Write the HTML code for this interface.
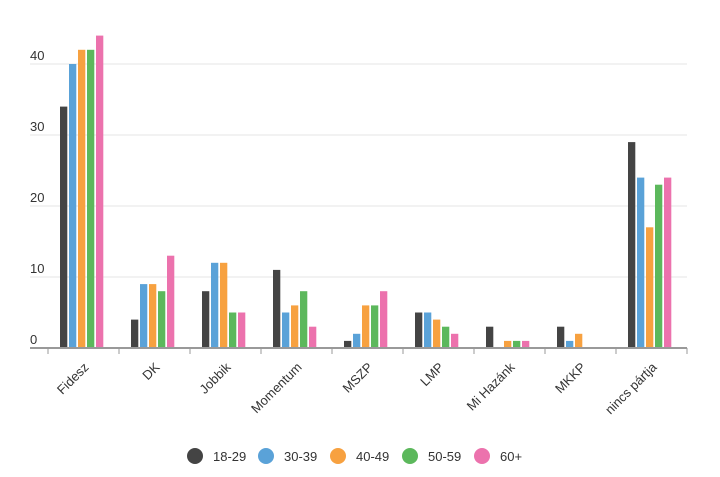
<!DOCTYPE html>
<html><head><meta charset="utf-8"><style>
body{margin:0;background:#fff;}
svg{display:block;font-family:"Liberation Sans",sans-serif;}
</style></head><body>
<svg id="chart" width="720" height="477"></svg>
<script>
const categories=["Fidesz","DK","Jobbik","Momentum","MSZP","LMP","Mi Hazánk","MKKP","nincs pártja"];
const seriesNames=["18-29","30-39","40-49","50-59","60+"];
const s1829=[34,4,8,11,1,5,3,3,29];
const s3039=[40,9,12,5,2,5,0,1,24];
const s4049=[42,9,12,6,6,4,1,2,17];
const s5059=[42,8,5,8,6,3,1,0,23];
const s60=[44,13,5,3,8,2,1,0,24];
const yTicks=[0,10,20,30,40];
const series=[s1829,s3039,s4049,s5059,s60];
const colors=["#444444","#5aa2d8","#f7a140","#5cb85c","#ec72ad"];
const NS="http://www.w3.org/2000/svg";
const svg=document.getElementById('chart');
const x0=48,x1=687,y0=348,pxPer=7.1;
const bw=(x1-x0)/categories.length;
const y=v=>y0-v*pxPer;
function mk(t,a,p){const e=document.createElementNS(NS,t);for(const k in a)e.setAttribute(k,a[k]);(p||svg).appendChild(e);return e;}
yTicks.forEach(t=>{
 if(t>0){const g=mk('line',{x1:30,x2:x1,y1:y(t),y2:y(t),stroke:'#e6e6e6','stroke-width':1});
 
 }
 const l=mk('text',{x:30,y:y(t)-4,'font-size':13,fill:'#333'});l.textContent=t;
 
 
});
categories.forEach((c,i)=>{
 const cx=x0+bw*i;
 series.forEach((s,j)=>{
  const v=s[i]; if(v<=0)return;
  const r=mk('rect',{x:cx+12+j*9,y:y(v),width:7.3,height:v*pxPer,fill:colors[j]});
  
  
 });
 const tk=mk('line',{x1:cx,x2:cx,y1:y0,y2:y0+6,stroke:'#999'});
 
 
 const lx=cx+bw/2+6,ly=y0+20;
 const t=mk('text',{x:lx,y:ly,'font-size':13,fill:'#333','text-anchor':'end',transform:`rotate(-45 ${lx} ${ly})`});
 t.textContent=c;
 
 
});
const lt=mk('line',{x1:x1,x2:x1,y1:y0,y2:y0+6,stroke:'#999'});


const ax=mk('line',{x1:30,x2:x1,y1:y0,y2:y0,stroke:'#999','stroke-width':2});


const lxs=[195,266,338,410,482];
seriesNames.forEach((n,j)=>{
 const g=mk('g',{});
 
 
 mk('circle',{cx:lxs[j],cy:456,r:8,fill:colors[j]},g);
 const t=mk('text',{x:lxs[j]+18,y:461,'font-size':13,fill:'#333'},g);t.textContent=n;
});
</script>
</body></html>
